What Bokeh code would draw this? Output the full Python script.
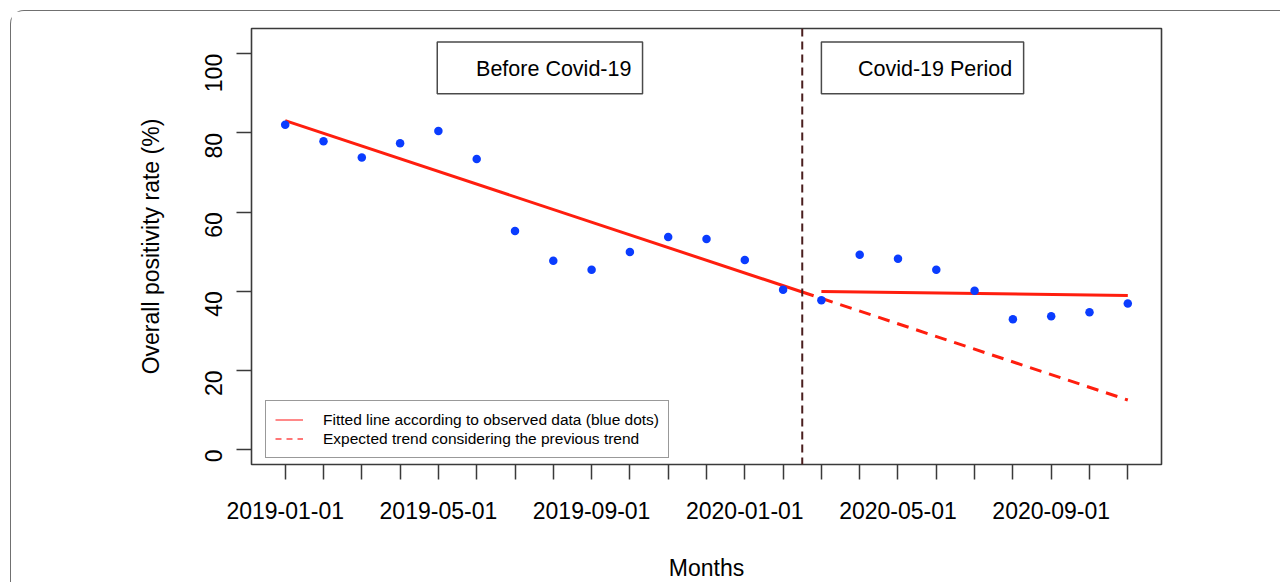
import math
from bokeh.plotting import figure
from bokeh.models import (FixedTicker, Span, BoxAnnotation, Label, Legend,
                          LegendItem, Range1d, ColumnDataSource)
from bokeh.embed import file_html
from bokeh.resources import INLINE

# ---------------- data ----------------
months = ["2019-01-01", "2019-02-01", "2019-03-01", "2019-04-01", "2019-05-01",
          "2019-06-01", "2019-07-01", "2019-08-01", "2019-09-01", "2019-10-01",
          "2019-11-01", "2019-12-01", "2020-01-01", "2020-02-01", "2020-03-01",
          "2020-04-01", "2020-05-01", "2020-06-01", "2020-07-01", "2020-08-01",
          "2020-09-01", "2020-10-01", "2020-11-01"]
labelled_months = ["2019-01-01", "2019-05-01", "2019-09-01",
                   "2020-01-01", "2020-05-01", "2020-09-01"]
positivity = [82.1, 77.9, 73.8, 77.4, 80.5, 73.4, 55.2, 47.7, 45.4, 49.9,
              53.7, 53.2, 47.9, 40.4, 37.7, 49.2, 48.2, 45.4, 40.1, 32.9,
              33.7, 34.7, 36.9]
y_ticks = [0, 20, 40, 60, 80, 100]

intervention = 13.5               # month index of the Covid-19 split
pre_fit_x = [0, 13.5]
pre_fit_y = [83.1, 39.8]
expected_x = [13.5, 22]
expected_y = [39.8, 12.5]
post_fit_x = [14, 22]
post_fit_y = [39.95, 38.9]

period_labels = ["Before Covid-19", "Covid-19 Period"]
legend_labels = ["Fitted line according to observed data (blue dots)",
                 "Expected trend considering the previous trend"]
x_title = "Months"
y_title = "Overall positivity rate (%)"

# ---------------- figure ----------------
FONT = "Liberation Sans"
RED = "#ff1e0e"
BLUE = "#0a3cff"

idx = list(range(len(months)))
src = ColumnDataSource(dict(x=idx, y=positivity))

p = figure(width=1270, height=572,
           x_range=Range1d(-0.88, 22.88), y_range=Range1d(-3.8, 106.4),
           output_backend="svg", toolbar_location=None,
           min_border_left=240, min_border_right=120,
           min_border_top=17, min_border_bottom=118)
p.margin = (10, 0, 0, 10)
p.styles = {"border-top": "1px solid #707070",
            "border-left": "1px solid #707070",
            "border-top-left-radius": "14px"}

p.xgrid.visible = False
p.ygrid.visible = False
p.outline_line_color = "#3a3a3a"
p.outline_line_width = 1.6

# axes
xa = p.xaxis[0]
xa.ticker = FixedTicker(ticks=idx)
xa.major_label_overrides = {i: (m if m in labelled_months else "")
                            for i, m in enumerate(months)}
ya = p.yaxis[0]
ya.ticker = FixedTicker(ticks=y_ticks)
ya.major_label_orientation = math.pi / 2
for ax in (xa, ya):
    ax.axis_line_color = None
    ax.minor_tick_line_color = None
    ax.major_tick_in = 0
    ax.major_tick_out = 15
    ax.major_tick_line_color = "#3a3a3a"
    ax.major_tick_line_width = 1.5
    ax.major_label_text_font = FONT
    ax.major_label_text_font_size = "23px"
    ax.major_label_text_color = "black"
    ax.axis_label_text_font = FONT
    ax.axis_label_text_font_size = "23px"
    ax.axis_label_text_font_style = "normal"
    ax.axis_label_text_color = "black"
xa.major_label_standoff = 22
xa.axis_label = x_title
xa.axis_label_standoff = 33
ya.major_label_standoff = 23
ya.axis_label = y_title
ya.axis_label_standoff = 30

# intervention line
p.add_layout(Span(location=intervention, dimension="height",
                  line_color="#4a1e1e", line_width=2, line_dash="8 5"))

# period boxes
box_specs = [(3.97, 9.33, period_labels[0], 9.04),
             (14.0, 19.28, period_labels[1], 18.98)]
for left, right, txt, tx in box_specs:
    p.add_layout(BoxAnnotation(left=left, right=right, top=103.0, bottom=89.9,
                               fill_color="white", fill_alpha=1.0,
                               line_color="#4a4a4a", line_alpha=1.0,
                               line_width=1.5))
    p.add_layout(Label(x=tx, y=96.05, text=txt, text_align="right",
                       text_baseline="middle", text_font=FONT,
                       text_font_size="21.5px", text_color="black"))

# fitted lines
p.line(pre_fit_x, pre_fit_y, line_color=RED, line_width=3)
p.line(expected_x, expected_y, line_color=RED, line_width=3, line_dash="12 8")
p.line(post_fit_x, post_fit_y, line_color=RED, line_width=3)

# observed points
p.scatter("x", "y", source=src, size=8.5, fill_color=BLUE, line_color=None)

# legend (thin sample lines, as in the reference) from hidden twin renderers
r_solid = p.line(pre_fit_x, pre_fit_y, line_color="#ff4a4a", line_width=1.3,
                 visible=False)
r_dash = p.line(expected_x, expected_y, line_color="#ff4a4a", line_width=1.3,
                line_dash="6 5", visible=False)
legend = Legend(items=[LegendItem(label=legend_labels[0], renderers=[r_solid]),
                       LegendItem(label=legend_labels[1], renderers=[r_dash])],
                location=(14, 6), margin=0, padding=9, spacing=0,
                glyph_width=28, glyph_height=19, label_height=19,
                label_standoff=20, label_text_font=FONT,
                label_text_font_size="15.5px", label_text_color="black",
                border_line_color="#333333", border_line_width=1.5,
                background_fill_color="white", background_fill_alpha=1.0,
                inactive_fill_alpha=0.0)
p.add_layout(legend)

open("out.html", "w").write(file_html(p, INLINE))
